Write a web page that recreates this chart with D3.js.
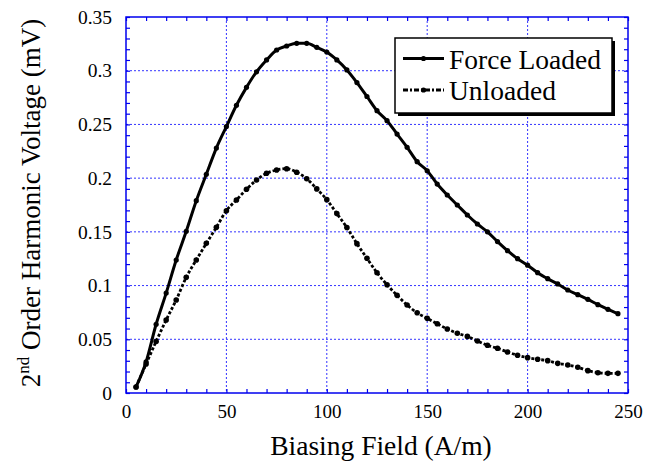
<!DOCTYPE html>
<html><head><meta charset="utf-8">
<script src="https://cdn.jsdelivr.net/npm/d3@7"></script>
<style>
html,body{margin:0;padding:0;background:#fff;}
svg, svg text{font-family:"Liberation Serif","Times New Roman",serif !important;}
</style></head>
<body>
<svg id="c" width="648" height="467"></svg>
<script>
const field = [5,10,15,20,25,30,35,40,45,50,55,60,65,70,75,80,85,90,95,100,105,110,115,120,125,130,135,140,145,150,155,160,165,170,175,180,185,190,195,200,205,210,215,220,225,230,235,240,245];
const forceLoaded = [0.0056,0.029,0.064,0.093,0.1238,0.1505,0.179,0.2036,0.228,0.248,0.2678,0.2845,0.299,0.310,0.3193,0.323,0.3255,0.3255,0.3218,0.3174,0.310,0.3007,0.289,0.276,0.2628,0.2535,0.241,0.2287,0.2153,0.2069,0.1945,0.1843,0.175,0.1657,0.1573,0.150,0.141,0.1325,0.125,0.119,0.112,0.1064,0.1015,0.0959,0.0915,0.0872,0.0822,0.0779,0.0738];
const unloaded = [0.0056,0.027,0.048,0.068,0.0866,0.1077,0.1238,0.1393,0.1542,0.1697,0.1797,0.1896,0.1983,0.2045,0.2076,0.2088,0.2055,0.1995,0.19,0.18,0.167,0.154,0.139,0.1254,0.112,0.1008,0.0909,0.0819,0.0747,0.0695,0.0645,0.0596,0.0556,0.0527,0.0484,0.0444,0.0416,0.0382,0.0351,0.0329,0.0314,0.0301,0.0276,0.0261,0.0239,0.0208,0.0189,0.0183,0.0183];
const xTicks = [0,50,100,150,200,250];
const xTickLabels = ["0","50","100","150","200","250"];
const yTicks = [0,0.05,0.1,0.15,0.2,0.25,0.3,0.35];
const yTickLabels = ["0","0.05","0.1","0.15","0.2","0.25","0.3","0.35"];
const seriesNames = ["Force Loaded","Unloaded"];

const FONT = "'Liberation Serif','Times New Roman',serif";
const L=126,R=628,T=17,B=393;
const x = d3.scaleLinear().domain([0,250]).range([L,R]);
const y = d3.scaleLinear().domain([0,0.35]).range([B,T]);
const svg = d3.select("#c");
const blue="#0000ee";

// gridlines
const g = svg.append("g");
g.selectAll(".gx").data(xTicks.slice(1,-1)).enter().append("line")
 .attr("x1",d=>x(d)).attr("x2",d=>x(d)).attr("y1",T).attr("y2",B)
 .attr("stroke","#3333ff").attr("stroke-width",1).attr("stroke-dasharray","2,2");
g.selectAll(".gy").data(yTicks.slice(1,-1)).enter().append("line")
 .attr("y1",d=>y(d)).attr("y2",d=>y(d)).attr("x1",L).attr("x2",R)
 .attr("stroke","#3333ff").attr("stroke-width",1).attr("stroke-dasharray","2,2");

// minor ticks
const xMinor = d3.range(0,251,10);
const yMinor = d3.range(0,36).map(i=>i/100);
function styleAxis(sel){ sel.select(".domain").remove(); sel.selectAll("line").attr("stroke",blue).attr("stroke-width",1.2); }
svg.append("g").attr("transform",`translate(0,${B})`).call(d3.axisBottom(x).tickValues(xMinor).tickSize(-4).tickFormat("")).call(styleAxis);
svg.append("g").attr("transform",`translate(0,${T})`).call(d3.axisTop(x).tickValues(xMinor).tickSize(-4).tickFormat("")).call(styleAxis);
svg.append("g").attr("transform",`translate(${L},0)`).call(d3.axisLeft(y).tickValues(yMinor).tickSize(-4).tickFormat("")).call(styleAxis);
svg.append("g").attr("transform",`translate(${R},0)`).call(d3.axisRight(y).tickValues(yMinor).tickSize(-4).tickFormat("")).call(styleAxis);

// labels
const xl = svg.append("g").attr("transform",`translate(0,${B})`)
 .call(d3.axisBottom(x).tickValues(xTicks).tickSize(0).tickPadding(12).tickFormat((d,i)=>xTickLabels[i]));
xl.attr("font-family",FONT);
xl.select(".domain").remove();
xl.selectAll("text").style("font-family",FONT).attr("font-size",19).attr("fill","#000");
const yl = svg.append("g").attr("transform",`translate(${L},0)`)
 .call(d3.axisLeft(y).tickValues(yTicks).tickSize(0).tickPadding(14).tickFormat((d,i)=>yTickLabels[i]));
yl.attr("font-family",FONT);
yl.select(".domain").remove();
yl.selectAll("text").style("font-family",FONT).attr("font-size",19.5).attr("fill","#000");

// frame
svg.append("rect").attr("x",L).attr("y",T).attr("width",R-L).attr("height",B-T)
 .attr("fill","none").attr("stroke",blue).attr("stroke-width",1.5);

// series
const dataF = field.map((f,i)=>[f,forceLoaded[i]]);
const dataU = field.map((f,i)=>[f,unloaded[i]]);
const line = d3.line().x(d=>x(d[0])).y(d=>y(d[1])).curve(d3.curveMonotoneX);
svg.append("path").datum(dataU).attr("d",line).attr("fill","none").attr("stroke","#000")
 .attr("stroke-width",2.8).attr("stroke-dasharray","3,2");
svg.append("g").selectAll("circle").data(dataU).enter().append("circle")
 .attr("cx",d=>x(d[0])).attr("cy",d=>y(d[1])).attr("r",2.8).attr("fill","#000");
svg.append("path").datum(dataF).attr("d",line).attr("fill","none").attr("stroke","#000")
 .attr("stroke-width",3);
svg.append("g").selectAll("circle").data(dataF).enter().append("circle")
 .attr("cx",d=>x(d[0])).attr("cy",d=>y(d[1])).attr("r",2.6).attr("fill","#000");

// legend
const lg = svg.append("g");
lg.append("rect").attr("x",398).attr("y",41).attr("width",217).attr("height",75).attr("fill","#000");
lg.append("rect").attr("x",395).attr("y",38).attr("width",217).attr("height",75).attr("fill","#fff").attr("stroke","#000").attr("stroke-width",1.5);
const rows=[{n:seriesNames[0],dash:null,yy:58.5},{n:seriesNames[1],dash:"5,2,2,2",yy:90}];
rows.forEach(r=>{
  lg.append("line").attr("x1",403).attr("x2",444).attr("y1",r.yy).attr("y2",r.yy)
   .attr("stroke","#000").attr("stroke-width",3).attr("stroke-dasharray",r.dash);
  lg.append("circle").attr("cx",423.5).attr("cy",r.yy).attr("r",2.6).attr("fill","#000");
  lg.append("text").attr("x",449).attr("y",r.yy+10).style("font-family",FONT).attr("font-size",27.5).attr("fill","#000").text(r.n);
});

// axis titles
svg.append("text").attr("x",(L+R)/2+4).attr("y",455).attr("text-anchor","middle").style("font-family",FONT)
 .attr("font-size",27.5).attr("fill","#000").text("Biasing Field (A/m)");
const yt = svg.append("text").attr("transform","translate(40,203) rotate(-90)").attr("text-anchor","middle")
 .style("font-family",FONT).attr("font-size",27).attr("fill","#000");
yt.append("tspan").text("2");
yt.append("tspan").attr("font-size",17).attr("dy",-11).text("nd");
yt.append("tspan").attr("dy",11).text(" Order Harmonic Voltage (mV)");
</script>
</body></html>
